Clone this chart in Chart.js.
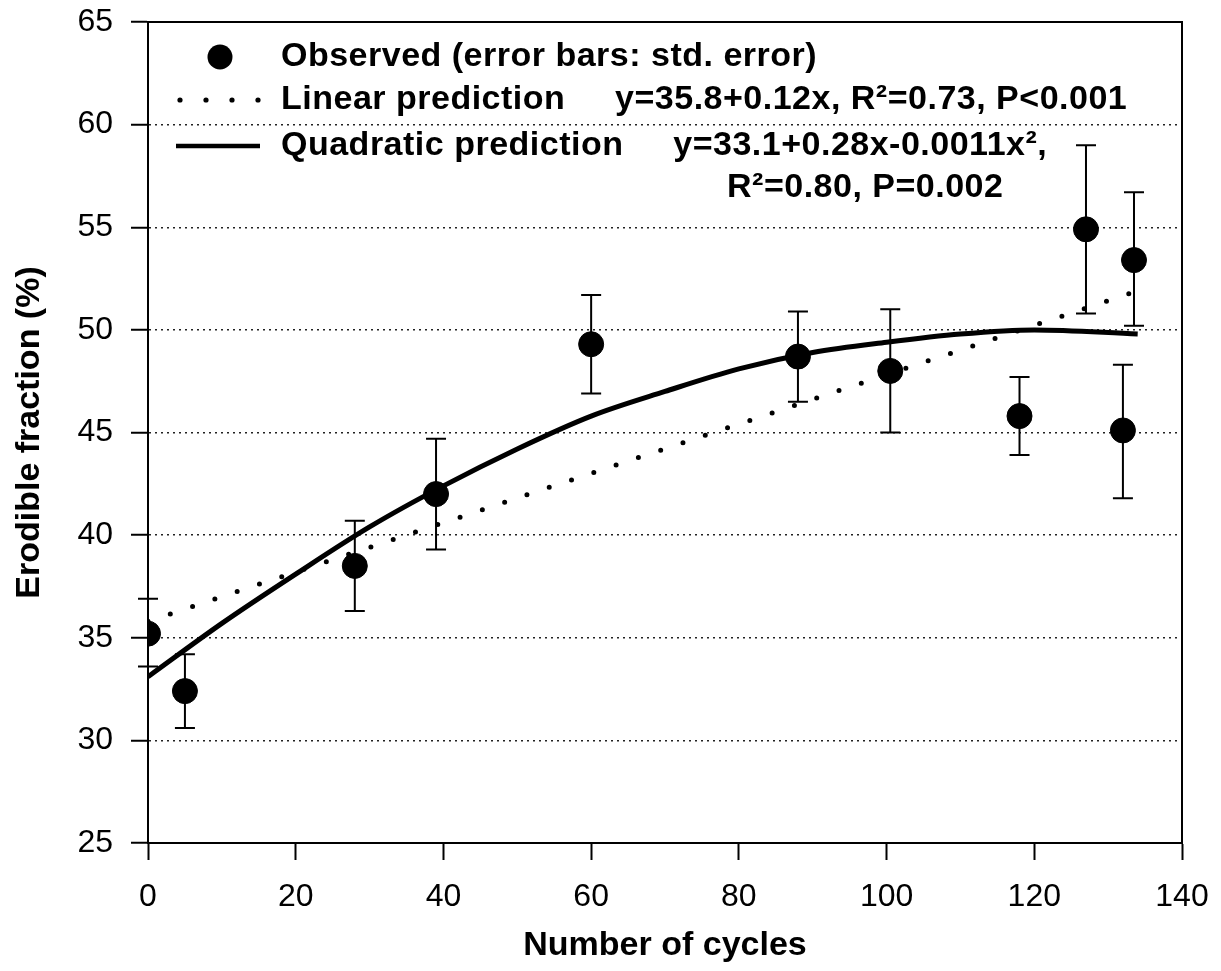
<!DOCTYPE html>
<html>
<head>
<meta charset="utf-8">
<title>Erodible fraction vs number of cycles</title>
<script src="https://cdn.jsdelivr.net/npm/chart.js@4/dist/chart.umd.min.js"></script>
<style>
  html, body { margin: 0; padding: 0; background: #fff; }
  #wrap { width: 1221px; height: 971px; position: relative; }
</style>
</head>
<body>
<div id="wrap"><canvas id="erodibleChart"></canvas></div>
<script>
// observed means with standard errors
const cycles = [0, 5, 28, 39, 60, 88, 100.5, 118, 127, 132, 133.5];
const erodible = [35.2, 32.4, 38.5, 42.0, 49.3, 48.7, 48.0, 45.8, 54.9, 45.1, 53.4];
const errLow = [33.6, 30.6, 36.3, 39.3, 46.9, 46.5, 45.0, 43.9, 50.8, 41.8, 50.2];
const errHigh = [36.9, 34.2, 40.7, 44.7, 51.7, 50.9, 51.0, 47.7, 59.0, 48.3, 56.7];

// fitted lines
const linearX = [0, 134];
const linearY = [35.8, 51.9];
const quadX = [0, 10, 20, 30, 40, 50, 60, 70, 80, 90, 100, 110, 120, 134];
const quadY = [33.1, 35.7, 38.1, 40.4, 42.4, 44.2, 45.8, 47.0, 48.1, 48.9, 49.4, 49.8, 50.0, 49.8];

const yTicks = [25, 30, 35, 40, 45, 50, 55, 60, 65];
const xTicks = [0, 20, 40, 60, 80, 100, 120, 140];

const legendLabels = [
  "Observed (error bars: std. error)",
  "Linear prediction     y=35.8+0.12x, R\u00b2=0.73, P<0.001",
  "Quadratic prediction     y=33.1+0.28x-0.0011x\u00b2,",
  "R\u00b2=0.80, P=0.002"
];

const FONT = "'Liberation Sans', Arial, Helvetica, sans-serif";

const toXY = (xs, ys) => xs.map((x, i) => ({ x: x, y: ys[i] }));

// error bars drawn through the scales
const errorBars = {
  id: "errorBars",
  afterDatasetsDraw(chart) {
    const { ctx, scales } = chart;
    const meta = chart.getDatasetMeta(0);
    ctx.save();
    ctx.strokeStyle = "#000";
    ctx.lineWidth = 2;
    meta.data.forEach((pt, i) => {
      const x = pt.x;
      const yLo = scales.y.getPixelForValue(errLow[i]);
      const yHi = scales.y.getPixelForValue(errHigh[i]);
      ctx.beginPath();
      ctx.moveTo(x, yLo); ctx.lineTo(x, yHi);
      ctx.moveTo(x - 10, yLo); ctx.lineTo(x + 10, yLo);
      ctx.moveTo(x - 10, yHi); ctx.lineTo(x + 10, yHi);
      ctx.stroke();
    });
    ctx.restore();
  }
};

// plot frame + in-plot legend
const frameAndLegend = {
  id: "frameAndLegend",
  afterDraw(chart) {
    const { ctx, chartArea: a } = chart;
    ctx.save();
    ctx.strokeStyle = "#000";
    ctx.lineWidth = 2;
    ctx.strokeRect(a.left, a.top, a.right - a.left, a.bottom - a.top);

    const tx = a.left + 133;
    const rows = [a.top + 35, a.top + 78, a.top + 124, a.top + 166];
    ctx.fillStyle = "#000";

    // circle marker
    ctx.beginPath();
    ctx.arc(a.left + 72, rows[0], 12.5, 0, Math.PI * 2);
    ctx.fill();

    // dotted sample
    for (let k = 0; k < 4; k++) {
      ctx.beginPath();
      ctx.arc(a.left + 32 + k * 26, rows[1], 2.6, 0, Math.PI * 2);
      ctx.fill();
    }

    // solid sample
    ctx.lineWidth = 4.5;
    ctx.beginPath();
    ctx.moveTo(a.left + 28, rows[2]);
    ctx.lineTo(a.left + 112, rows[2]);
    ctx.stroke();

    ctx.font = "bold 34px " + FONT;
    ctx.letterSpacing = "0.5px";
    ctx.textBaseline = "middle";
    ctx.textAlign = "left";
    ctx.fillText(legendLabels[0], tx, rows[0]);
    ctx.fillText(legendLabels[1], tx, rows[1]);
    ctx.fillText(legendLabels[2], tx, rows[2]);
    ctx.fillText(legendLabels[3], a.left + 579, rows[3]);
    ctx.restore();
  }
};

new Chart(document.getElementById("erodibleChart"), {
  type: "scatter",
  data: {
    datasets: [
      {
        label: "Observed",
        data: toXY(cycles, erodible),
        pointRadius: 12.5,
        pointHoverRadius: 12.5,
        backgroundColor: "#000",
        borderColor: "#000",
        showLine: false,
      },
      {
        label: "Linear prediction",
        data: toXY(linearX, linearY),
        showLine: true,
        pointRadius: 0,
        borderColor: "#000",
        borderWidth: 5,
        borderCapStyle: "round",
        borderDash: [0, 23.5],
      },
      {
        label: "Quadratic prediction",
        data: toXY(quadX, quadY),
        showLine: true,
        pointRadius: 0,
        borderColor: "#000",
        borderWidth: 5,
        tension: 0.4,
        cubicInterpolationMode: "monotone",
      },
    ],
  },
  options: {
    responsive: true,
    maintainAspectRatio: false,
    animation: false,
    events: [],
    layout: { padding: { top: 22, right: 39, left: 0, bottom: 0 } },
    plugins: {
      legend: { display: false },
      tooltip: { enabled: false },
    },
    scales: {
      x: {
        type: "linear",
        min: 0,
        max: 140,
        afterBuildTicks: scale => { scale.ticks = xTicks.map(v => ({ value: v })); },
        afterFit: scale => {
          scale.height = 128;
          scale.paddingLeft = 0;
          scale.paddingRight = 0;
        },
        grid: { drawOnChartArea: false, drawTicks: true, tickLength: 17, tickColor: "#000", tickWidth: 2 },
        border: { color: "#000", width: 2 },
        ticks: { color: "#000", padding: 18, maxRotation: 0, font: { family: FONT, size: 32 } },
        title: {
          display: true,
          text: "Number of cycles",
          color: "#000",
          font: { family: FONT, size: 34, weight: "bold" },
          padding: { top: 0, bottom: 5 },
        },
      },
      y: {
        type: "linear",
        min: 25,
        max: 65,
        afterBuildTicks: scale => { scale.ticks = yTicks.map(v => ({ value: v })); },
        afterFit: scale => {
          scale.width = 148;
          scale.paddingTop = 0;
          scale.paddingBottom = 0;
        },
        grid: {
          color: c => (c.tick && c.tick.value > 25 && c.tick.value < 65 ? "#222" : "rgba(0,0,0,0)"),
          lineWidth: 1.5,
          tickLength: 17,
          tickColor: "#000",
          tickWidth: 2,
        },
        border: { color: "#000", width: 2, dash: [2, 4] },
        ticks: { color: "#000", padding: 18, font: { family: FONT, size: 32 } },
        title: {
          display: true,
          text: "Erodible fraction (%)",
          color: "#000",
          font: { family: FONT, size: 34, weight: "bold" },
          padding: { top: 9, bottom: 0 },
        },
      },
    },
  },
  plugins: [errorBars, frameAndLegend],
});
</script>
</body>
</html>
